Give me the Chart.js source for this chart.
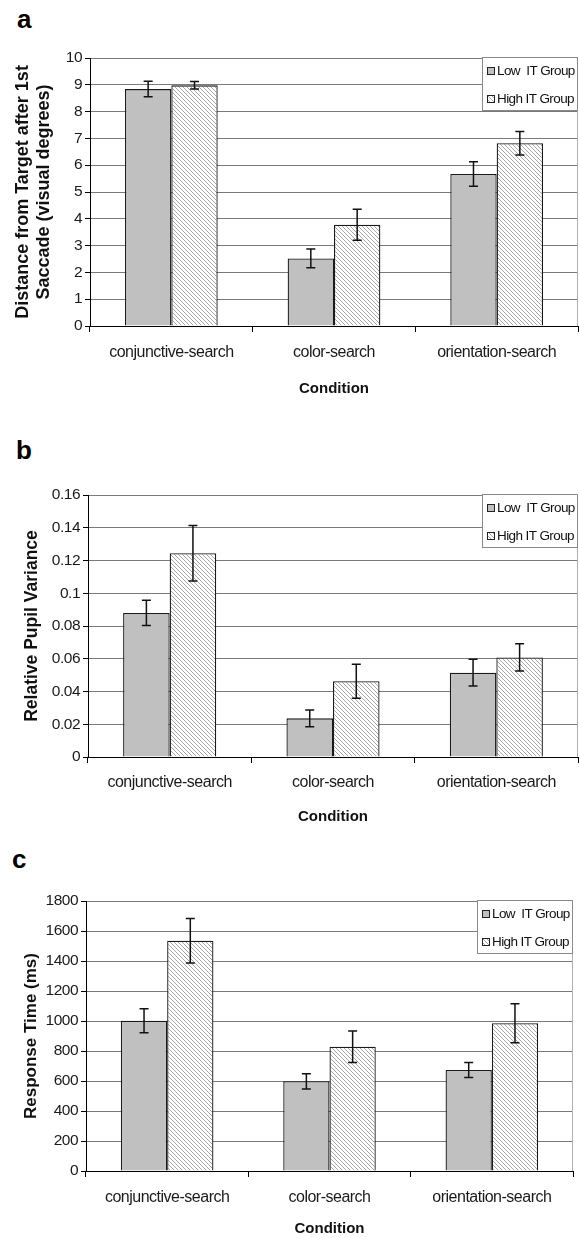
<!DOCTYPE html>
<html>
<head>
<meta charset="utf-8">
<script src="https://cdn.jsdelivr.net/npm/chart.js@4.4.1/dist/chart.umd.min.js"></script>
<style>
  body { margin: 0; background: #fff; width: 579px; height: 1238px; position: relative; overflow: hidden; }
  .panel { position: absolute; left: 0; }
  .tag { position: absolute; font: bold 26px "Liberation Sans", Arial, sans-serif; line-height: 26px; color: #000; }
</style>
</head>
<body>
<div class="tag" style="left:17px;top:6px">a</div>
<div class="tag" style="left:16px;top:437px">b</div>
<div class="tag" style="left:12px;top:846px">c</div>

<div class="panel" style="top:0"><canvas id="chartA" width="579" height="400"></canvas></div>
<div class="panel" style="top:420px"><canvas id="chartB" width="579" height="420"></canvas></div>
<div class="panel" style="top:840px"><canvas id="chartC" width="579" height="398"></canvas></div>

<script>
// Datos
const conditions = ['conjunctive-search', 'color-search', 'orientation-search'];
const groupLabels = ['Low  IT Group', 'High IT Group'];

// a: distancia tras la 1a sacada
const distLow = [8.84, 2.52, 5.67];
const distLowErr = [0.29, 0.35, 0.46];
const distHigh = [8.98, 3.78, 6.82];
const distHighErr = [0.14, 0.58, 0.44];

// b: varianza relativa de pupila
const pupilLow = [0.088, 0.0236, 0.0515];
const pupilLowErr = [0.0077, 0.0051, 0.0082];
const pupilHigh = [0.1244, 0.0463, 0.0608];
const pupilHighErr = [0.0169, 0.0104, 0.0083];

// c: tiempo de respuesta
const rtLow = [1002, 598, 674];
const rtLowErr = [80, 51, 50];
const rtHigh = [1535, 828, 985];
const rtHighErr = [149, 105, 130];

const sans = '"Liberation Sans", Arial, sans-serif';

// Patrón rayado para el grupo alto
function makeHatch() {
    const s = 4;
    const c = document.createElement('canvas');
    c.width = s; c.height = s;
    const g = c.getContext('2d');
    g.fillStyle = '#fff';
    g.fillRect(0, 0, s, s);
    g.strokeStyle = '#a8a8a8';
    g.lineWidth = 1;
    g.beginPath();
    for (let k = -1; k <= 1; k++) {
        g.moveTo(k * s, 0);
        g.lineTo(k * s + s, s);
    }
    g.stroke();
    return g.createPattern(c, 'repeat');
}
const hatch = makeHatch();

// Barras de error, borde derecho y leyenda dentro del área
const extrasPlugin = {
    id: 'extras',
    afterDatasetsDraw(chart) {
        const ctx = chart.ctx;
        const y = chart.scales.y;
        const area = chart.chartArea;
        ctx.save();

        // barras de error
        ctx.strokeStyle = '#111';
        ctx.lineWidth = 1.5;
        chart.data.datasets.forEach((ds, i) => {
            const meta = chart.getDatasetMeta(i);
            meta.data.forEach((bar, j) => {
                const v = ds.data[j], e = ds.errors[j];
                const top = y.getPixelForValue(v + e);
                const bot = y.getPixelForValue(v - e);
                ctx.beginPath();
                ctx.moveTo(bar.x, top); ctx.lineTo(bar.x, bot);
                ctx.moveTo(bar.x - 4.5, top); ctx.lineTo(bar.x + 4.5, top);
                ctx.moveTo(bar.x - 4.5, bot); ctx.lineTo(bar.x + 4.5, bot);
                ctx.stroke();
            });
        });

        // borde derecho
        ctx.strokeStyle = '#b0b0b0';
        ctx.lineWidth = 1;
        ctx.beginPath();
        ctx.moveTo(area.right - 0.5, area.top);
        ctx.lineTo(area.right - 0.5, area.bottom);
        ctx.stroke();

        // leyenda
        const w = 96, h = 54;
        const bx = area.right - w, by = area.top - 1;
        ctx.fillStyle = '#fff';
        ctx.fillRect(bx, by, w, h);
        ctx.strokeStyle = '#8a8a8a';
        ctx.strokeRect(bx + 0.5, by + 0.5, w - 1, h - 1);
        ctx.font = '13.5px ' + sans;
        ctx.letterSpacing = '-0.6px';
        ctx.textBaseline = 'middle';
        chart.data.datasets.forEach((ds, i) => {
            const cy = by + 14 + i * 28;
            ctx.fillStyle = ds.backgroundColor;
            ctx.fillRect(bx + 5, cy - 4, 8, 8);
            ctx.strokeStyle = '#222';
            ctx.strokeRect(bx + 5.5, cy - 3.5, 7, 7);
            ctx.fillStyle = '#111';
            ctx.fillText(ds.label, bx + 15, cy);
        });
        ctx.restore();
    }
};

// Las etiquetas de los ejes (z: 1) se dibujan después de los datos, más estrechas
const condensePlugin = {
    id: 'condense',
    beforeDraw(chart) { chart.ctx.letterSpacing = '0px'; },
    afterDatasetsDraw(chart) { chart.ctx.letterSpacing = '-0.5px'; },
    afterDraw(chart) { chart.ctx.letterSpacing = '0px'; }
};

function tickText(v) {
    return String(parseFloat(v.toFixed(3)));
}

function drawPanel(id, opts) {
    const ctx = document.getElementById(id).getContext('2d');
    return new Chart(ctx, {
        type: 'bar',
        data: {
            labels: conditions,
            datasets: [{
                label: groupLabels[0],
                data: opts.low,
                errors: opts.lowErr,
                backgroundColor: '#c0c0c0',
                borderColor: '#1a1a1a',
                borderWidth: 1.3
            }, {
                label: groupLabels[1],
                data: opts.high,
                errors: opts.highErr,
                backgroundColor: hatch,
                borderColor: '#1a1a1a',
                borderWidth: 1.3
            }]
        },
        options: {
            responsive: false,
            animation: false,
            events: [],
            datasets: { bar: { barPercentage: 1, categoryPercentage: 0.57 } },
            layout: { padding: { top: opts.top, right: opts.right, left: 0, bottom: 0 } },
            plugins: { legend: { display: false }, tooltip: { enabled: false } },
            scales: {
                x: {
                    afterFit: (s) => { s.height = opts.xHeight; },
                    grid: { drawOnChartArea: false, offset: true, tickLength: 6, color: '#000', lineWidth: 1 },
                    border: { color: '#000', width: 1 },
                    ticks: { z: 1, color: '#1a1a1a', font: { family: sans, size: 16 }, padding: opts.labelPad, maxRotation: 0, autoSkip: false },
                    title: {
                        display: true,
                        text: 'Condition',
                        color: '#111',
                        font: { family: sans, size: 15, weight: 'bold', lineHeight: 1.2 },
                        padding: { top: 0, bottom: opts.condPad }
                    }
                },
                y: {
                    min: 0,
                    max: opts.max,
                    afterFit: (s) => { s.width = opts.yWidth; },
                    grid: { color: '#7a7a7a', lineWidth: 1, tickLength: 5, tickColor: '#000' },
                    border: { color: '#000', width: 1 },
                    ticks: { z: 1, stepSize: opts.step, color: '#1a1a1a', font: { family: sans, size: 15.5 }, padding: 3, callback: tickText },
                    title: {
                        display: true,
                        text: opts.title,
                        color: '#111',
                        font: { family: sans, size: opts.titleSize, weight: 'bold', lineHeight: 1.15 },
                        padding: { top: opts.titlePad, bottom: 0 }
                    }
                }
            }
        },
        plugins: [extrasPlugin, condensePlugin]
    });
}

drawPanel('chartA', {
    low: distLow, lowErr: distLowErr, high: distHigh, highErr: distHighErr,
    max: 10, step: 1,
    title: ['Distance from Target after 1st', 'Saccade (visual degrees)'],
    titleSize: 18, titlePad: 13,
    top: 58, right: 1, xHeight: 74, yWidth: 90, labelPad: 11, condPad: 2
});

drawPanel('chartB', {
    low: pupilLow, lowErr: pupilLowErr, high: pupilHigh, highErr: pupilHighErr,
    max: 0.16, step: 0.02,
    title: 'Relative Pupil Variance',
    titleSize: 17.5, titlePad: 22,
    top: 75, right: 1, xHeight: 83, yWidth: 88, labelPad: 10, condPad: 14
});

drawPanel('chartC', {
    low: rtLow, lowErr: rtLowErr, high: rtHigh, highErr: rtHighErr,
    max: 1800, step: 200,
    title: 'Response Time (ms)',
    titleSize: 17, titlePad: 22,
    top: 61, right: 6, xHeight: 67, yWidth: 86, labelPad: 11, condPad: 0
});
</script>
</body>
</html>
